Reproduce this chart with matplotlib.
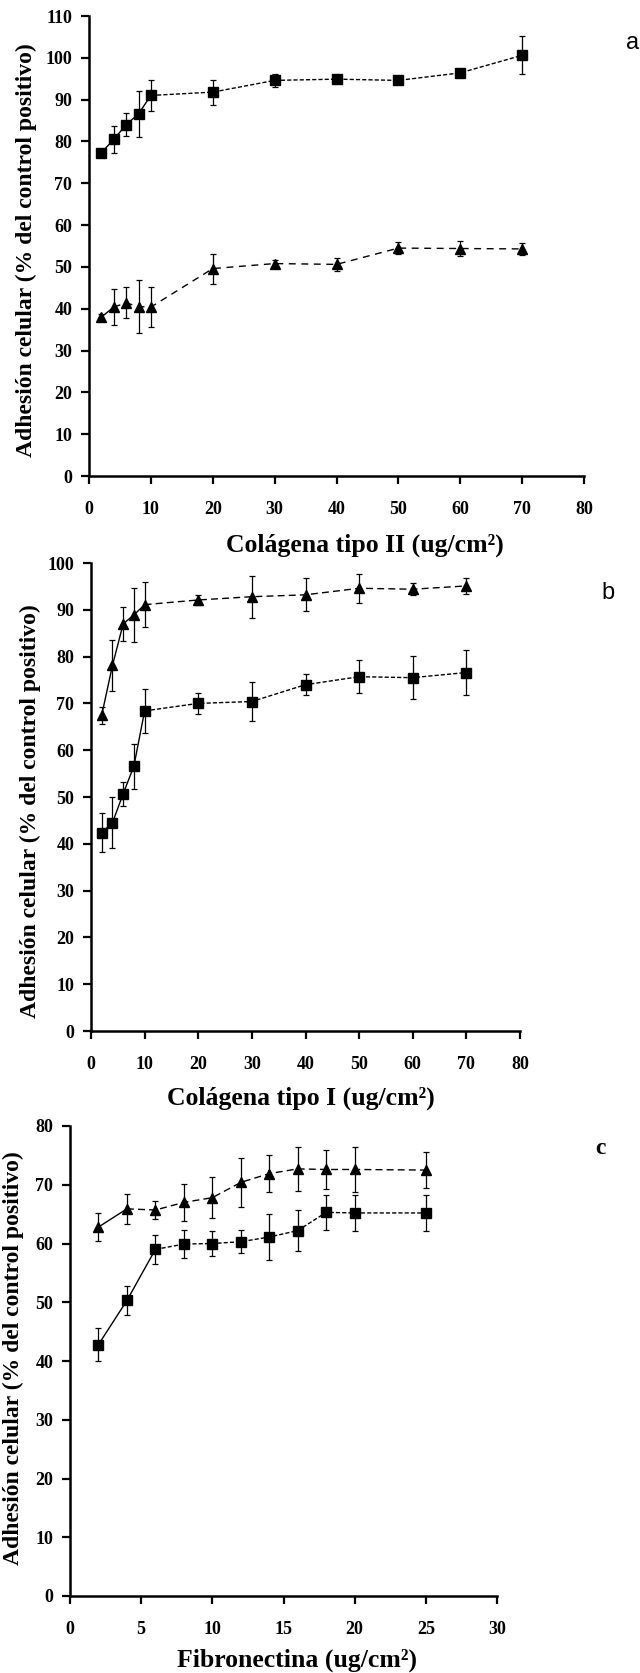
import matplotlib
matplotlib.use("Agg")
import matplotlib.pyplot as plt

# panel a: colagena tipo II
xa = [2, 4, 6, 8, 10, 20, 30, 40, 50, 60, 70]
a_sq = [77.3, 80.5, 84.0, 86.6, 91.0, 91.8, 94.6, 94.9, 94.6, 96.4, 100.6]
a_sq_err = [0.6, 3.2, 2.7, 5.5, 3.8, 3.0, 1.6, 0.6, 0.8, 1.0, 4.5]
a_tri = [38.0, 40.4, 41.4, 40.5, 40.4, 49.6, 50.8, 50.6, 54.5, 54.4, 54.3]
a_tri_err = [0.8, 4.4, 3.7, 6.4, 4.7, 3.6, 0.8, 1.5, 1.5, 1.8, 1.5]

# panel b: colagena tipo I
xb = [2, 4, 6, 8, 10, 20, 30, 40, 50, 60, 70]
b_tri = [67.5, 78.1, 87.0, 88.9, 91.1, 92.1, 92.8, 93.2, 94.6, 94.4, 95.1]
b_tri_err = [1.8, 5.5, 3.7, 5.7, 4.8, 1.0, 4.5, 3.5, 3.1, 1.3, 1.8]
b_sq = [42.4, 44.5, 50.7, 56.6, 68.4, 70.0, 70.4, 74.0, 75.7, 75.5, 76.6]
b_sq_err = [4.1, 5.4, 2.6, 4.8, 4.7, 2.3, 4.1, 2.3, 3.5, 4.6, 4.9]

# panel c: fibronectina
xc = [2, 4, 6, 8, 10, 12, 14, 16, 18, 20, 25]
c_tri = [62.8, 65.9, 65.7, 67.0, 67.8, 70.4, 71.9, 72.7, 72.6, 72.6, 72.5]
c_tri_err = [2.4, 2.5, 1.5, 3.1, 3.5, 4.2, 3.2, 3.7, 3.4, 3.9, 3.0]
c_sq = [42.8, 50.3, 59.0, 59.9, 60.0, 60.3, 61.1, 62.2, 65.3, 65.2, 65.2]
c_sq_err = [2.8, 2.5, 2.5, 2.4, 2.1, 2.0, 3.9, 3.5, 3.0, 3.0, 3.1]

W, H = 640, 1673
fig = plt.figure(figsize=(W / 100, H / 100), dpi=100)

serif = ['Liberation Serif', 'DejaVu Serif']
ylab = 'Adhesión celular (% del control positivo)'


def box(x0, x1, y0, y1):
    # pixel box -> figure fraction
    return [x0 / W, 1 - y1 / H, (x1 - x0) / W, (y1 - y0) / H]


def series(ax, x, y, e, marker, nsolid, dash):
    ax.errorbar(x, y, yerr=e, fmt='none', ecolor='k', elinewidth=0.9,
                capsize=2.5, capthick=0.9, clip_on=False)
    ax.plot(x[:nsolid], y[:nsolid], '-', color='k', lw=1.0, clip_on=False)
    ax.plot(x[nsolid - 1:], y[nsolid - 1:], color='k', lw=1.0,
            linestyle=dash, clip_on=False)
    ax.plot(x, y, linestyle='none', marker=marker, ms=7, color='k',
            clip_on=False)


def style(ax, xmax, ymax, xstep, ystep):
    ax.set_xlim(0, xmax)
    ax.set_ylim(0, ymax)
    ax.set_xticks(range(0, xmax + 1, xstep))
    ax.set_yticks(range(0, ymax + 1, ystep))
    for s in ['top', 'right']:
        ax.spines[s].set_visible(False)
    for s in ['left', 'bottom']:
        ax.spines[s].set_linewidth(1.8)
    ax.tick_params(direction='out', length=6, width=1.6, pad=6)
    ax.tick_params(axis='x', pad=12)
    for lab in ax.get_xticklabels() + ax.get_yticklabels():
        lab.set_family(serif)
        lab.set_fontweight('bold')
        lab.set_fontsize(13)


# panel a
ax = fig.add_axes(box(89, 584, 16, 476))
series(ax, xa, a_sq, a_sq_err, 's', 5, (0, (3, 1.5)))
series(ax, xa, a_tri, a_tri_err, '^', 2, (0, (5, 4)))
style(ax, 80, 110, 10, 10)

# panel b
ax = fig.add_axes(box(91, 520, 563, 1031))
series(ax, xb, b_tri, b_tri_err, '^', 5, (0, (5, 3)))
series(ax, xb, b_sq, b_sq_err, 's', 5, (0, (3, 1.5)))
style(ax, 80, 100, 10, 10)

# panel c
ax = fig.add_axes(box(70, 497, 1126, 1596))
series(ax, xc, c_tri, c_tri_err, '^', 2, (0, (5, 3)))
series(ax, xc, c_sq, c_sq_err, 's', 3, (0, (3, 1.5)))
style(ax, 30, 80, 5, 10)

# axis titles
for x, y in [(26, 250), (30, 811), (13, 1358)]:
    fig.text(x / W, 1 - y / H, ylab, rotation=90, ha='center', va='center',
             family=serif, fontweight='bold', fontsize=17)

fig.text(365 / W, 1 - 545 / H, 'Colágena tipo II (ug/cm²)', ha='center',
         va='center', family=serif, fontweight='bold', fontsize=18.5)
fig.text(301 / W, 1 - 1098 / H, 'Colágena tipo I (ug/cm²)', ha='center',
         va='center', family=serif, fontweight='bold', fontsize=18.5)
fig.text(297 / W, 1 - 1660 / H, 'Fibronectina (ug/cm²)', ha='center',
         va='center', family=serif, fontweight='bold', fontsize=18.5)

# panel letters
fig.text(633 / W, 1 - 43 / H, 'a', ha='center', va='center',
         family='Liberation Sans', fontsize=17)
fig.text(608 / W, 1 - 593 / H, 'b', ha='center', va='center',
         family='Liberation Sans', fontsize=17)
fig.text(600 / W, 1 - 1148 / H, 'c', ha='center', va='center',
         family=serif, fontweight='bold', fontsize=17)

fig.savefig('out.png', dpi=100)
